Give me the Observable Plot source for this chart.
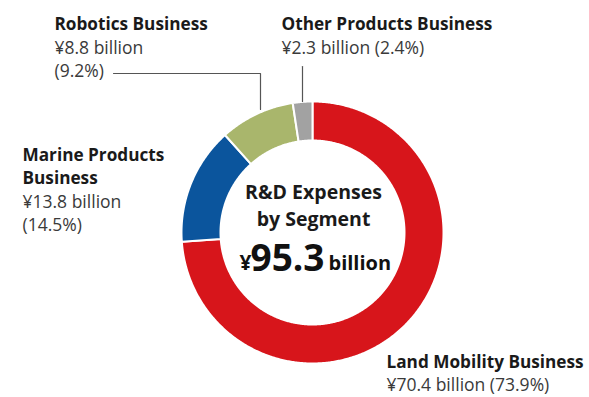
<!DOCTYPE html>
<html>
<head>
<meta charset="utf-8">
<script src="https://cdn.jsdelivr.net/npm/d3@7"></script>
<script src="https://cdn.jsdelivr.net/npm/@observablehq/plot@0.6"></script>
<style>
  html, body { margin: 0; padding: 0; background: #fff; }
  #chart svg { display: block; }
</style>
</head>
<body>
<div id="chart"></div>
<script>
// ---- data ----
const segments = ["Land Mobility Business", "Marine Products Business", "Robotics Business", "Other Products Business"];
const values = [70.4, 13.8, 8.8, 2.3];          // ¥ billion
const shares = [73.9, 14.5, 9.2, 2.4];          // %
const total = 95.3;                             // ¥ billion
const centerTitle = ["R&D Expenses", "by Segment"];

// ---- styles / layout ----
const colors = ["#d7151b", "#0b559d", "#a9b66c", "#a2a2a2"];
const W = 589, H = 397;
const cx = 312, cy = 232, rOuter = 131, rInner = 92;
const labelLayout = {
  "Land Mobility Business":   {x: 386, top: 355, titleLines: ["Land Mobility Business"], valueLines: (v, s) => [`¥${v} billion (${s}%)`]},
  "Marine Products Business": {x: 22,  top: 148, titleLines: ["Marine Products", "Business"], valueLines: (v, s) => [`¥${v} billion`, `(${s}%)`]},
  "Robotics Business":        {x: 54,  top: 17.5, titleLines: ["Robotics Business"], valueLines: (v, s) => [`¥${v} billion`, `(${s}%)`]},
  "Other Products Business":  {x: 281, top: 17.5, titleLines: ["Other Products Business"], valueLines: (v, s) => [`¥${v} billion (${s}%)`]}
};
const lineStep = 23.5;

const data = segments.map((name, i) => ({name, value: values[i], share: shares[i], color: colors[i]}));
const arcs = d3.pie().sort(null).value(d => d.value)(data);

// polygon points of each ring segment (from the pie angles)
const ringPts = [];
for (const a of arcs) {
  const n = Math.max(4, Math.ceil((a.endAngle - a.startAngle) / (Math.PI / 360)));
  const pts = [];
  for (let k = 0; k <= n; k++) {
    const t = a.startAngle + (a.endAngle - a.startAngle) * k / n;
    pts.push({t, r: rOuter});
  }
  for (let k = n; k >= 0; k--) {
    const t = a.startAngle + (a.endAngle - a.startAngle) * k / n;
    pts.push({t, r: rInner});
  }
  for (const p of pts) ringPts.push({name: a.data.name, color: a.data.color,
    px: cx + p.r * Math.sin(p.t), py: cy - p.r * Math.cos(p.t)});
}

// text lines
const textRows = [];
for (const d of data) {
  const L = labelLayout[d.name];
  let i = 0;
  for (const t of L.titleLines) textRows.push({x: L.x, y: L.top + lineStep * i++, text: t, bold: true});
  for (const t of L.valueLines(d.value, d.share)) textRows.push({x: L.x, y: L.top + lineStep * i++, text: t, bold: false});
}

// leader lines
const leaders = [
  {id: "Robotics", px: 113, py: 73}, {id: "Robotics", px: 260, py: 73}, {id: "Robotics", px: 260, py: 109},
  {id: "Other", px: 302, py: 66}, {id: "Other", px: 302, py: 101}
];

const font = "'Open Sans', 'Noto Sans', sans-serif";

const chart = Plot.plot({
  width: W, height: H,
  margin: 0,
  x: {domain: [0, W], range: [0, W], axis: null},
  y: {domain: [0, H], range: [0, H], axis: null},
  style: {fontFamily: font, background: "#fff"},
  marks: [
    Plot.line(ringPts, {x: "px", y: "py", z: "name", fill: "color", stroke: "#fff", strokeWidth: 2, curve: "linear-closed"}),
    Plot.line(leaders, {x: "px", y: "py", z: "id", stroke: "#555", strokeWidth: 1.2}),
    Plot.text(textRows.filter(d => d.bold), {x: "x", y: "y", text: "text", textAnchor: "start", lineAnchor: "top",
      fontSize: 17.2, fontWeight: "bold", fill: "#1a1a1a"}),
    Plot.text(textRows.filter(d => !d.bold), {x: "x", y: "y", text: "text", textAnchor: "start", lineAnchor: "top",
      fontSize: 17.5, fill: "#3a3a3a"}),
    Plot.text(centerTitle, {x: () => cx + 1, y: (d, i) => 185 + i * 27, text: d => d, textAnchor: "middle", lineAnchor: "top",
      fontSize: 19.5, fontWeight: "bold", fill: "#1a1a1a"}),
    Plot.text([total], {x: () => 287, y: () => 270, text: d => `${d}`, textAnchor: "middle", lineAnchor: "bottom",
      fontSize: 37, fontWeight: "bold", fill: "#111"}),
    Plot.text(["¥"], {x: () => 251, y: () => 269, text: d => d, textAnchor: "end", lineAnchor: "bottom",
      fontSize: 21, fontWeight: "bold", fill: "#111"}),
    Plot.text(["billion"], {x: () => 328, y: () => 269, text: d => d, textAnchor: "start", lineAnchor: "bottom",
      fontSize: 20, fontWeight: "bold", fill: "#111"})
  ]
});
document.getElementById("chart").append(chart);
</script>
</body>
</html>
